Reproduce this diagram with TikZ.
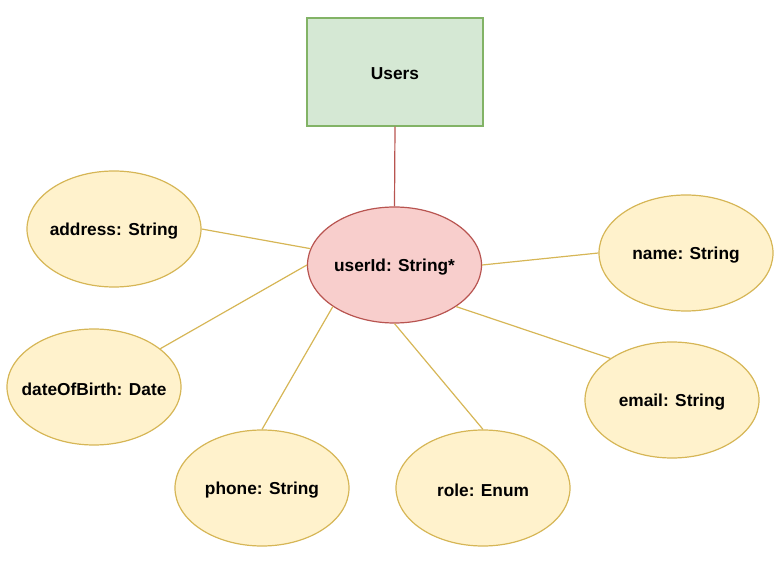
\documentclass[tikz,border=0pt]{standalone}
\usepackage{fontspec}
\setmainfont{Liberation Sans}
\usetikzlibrary{shapes.geometric}
\definecolor{gfill}{HTML}{D5E8D4}
\definecolor{gline}{HTML}{82B366}
\definecolor{rfill}{HTML}{F8CECC}
\definecolor{rline}{HTML}{B85450}
\definecolor{yfill}{HTML}{FFF2CC}
\definecolor{yline}{HTML}{D6B656}
\begin{document}
\begin{tikzpicture}[x=1pt,y=-1pt,
  lbl/.style={font=\fontsize{17.3}{20}\selectfont\bfseries, text=black},
  entity/.style={draw=gline, fill=gfill, line width=1.2pt, minimum width=176pt, minimum height=108pt, inner sep=0pt, label={[lbl,yshift=-1.5pt]center:#1}},
  keyattr/.style={ellipse, draw=rline, fill=rfill, line width=1.2pt, minimum width=174pt, minimum height=116pt, inner sep=0pt, label={[lbl,yshift=-2.5pt]center:#1}},
  attr/.style={ellipse, draw=yline, fill=yfill, line width=1.2pt, minimum width=174pt, minimum height=116pt, inner sep=0pt, label={[lbl,yshift=-2.5pt]center:#1}},
  rlink/.style={draw=rline, line width=1.2pt},
  ylink/.style={draw=yline, line width=1.2pt}]
\useasboundingbox (0,0) rectangle (782,561);
\node[entity={Users}] (users) at (395,72) {};
\node[keyattr={userId: String*}] (uid) at (394.5,265) {};
\node[attr={address: String}] (address) at (114,229) {};
\node[attr={name: String}] (name) at (686,253) {};
\node[attr={dateOfBirth: Date}] (dob) at (94,387) {};
\node[attr={email: String}] (email) at (672,400) {};
\node[attr={phone: String}] (phone) at (262,488) {};
\node[attr={role: Enum}] (role) at (483,488) {};
\draw[rlink] (users.south) -- (uid.north);
\draw[ylink] (address.east) -- (uid.169.6);
\draw[ylink] (dob.30) -- (uid.180);
\draw[ylink] (phone.north) -- (uid.214.4);
\draw[ylink] (role.north) -- (uid.south);
\draw[ylink] (name.west) -- (uid.east);
\draw[ylink] (email.146.1) -- (uid.326.5);
\end{tikzpicture}
\end{document}
